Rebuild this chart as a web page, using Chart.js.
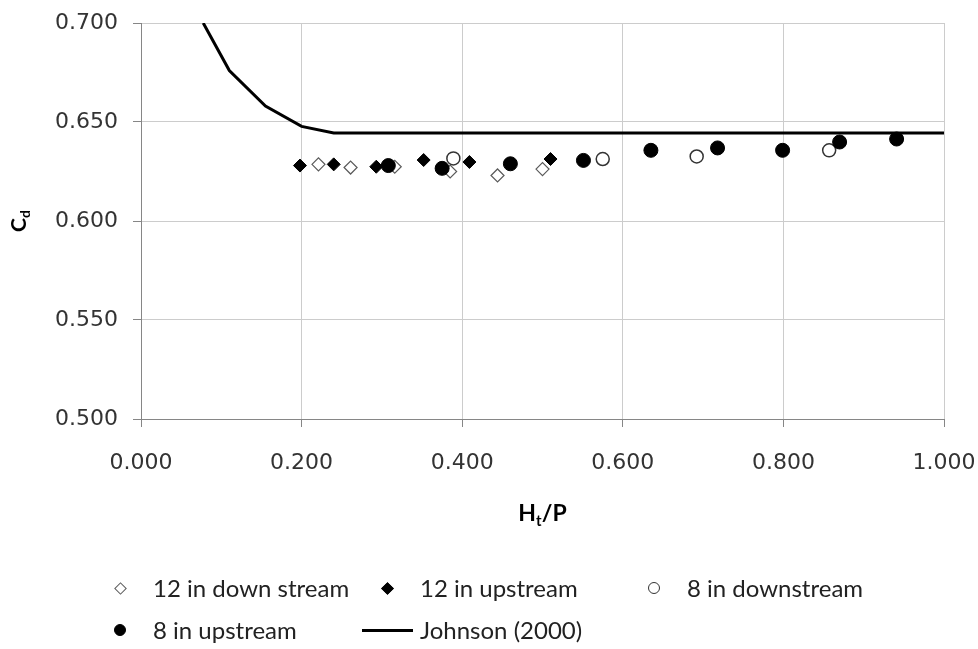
<!DOCTYPE html>
<html>
<head>
<meta charset="utf-8">
<script src="https://cdn.jsdelivr.net/npm/chart.js@4.4.0/dist/chart.umd.min.js"></script>
<style>
  html, body { margin: 0; padding: 0; background: #fff; }
  #wrap { position: relative; width: 978px; height: 649px; overflow: hidden; }
  #legend { position: absolute; left: 0; top: 0; width: 978px; height: 649px; pointer-events: none;
            font-family: Lato, "Noto Sans", sans-serif; font-size: 24px; color: #222; }
  .item { position: absolute; width: 0; height: 0; }
  .item .txt { position: absolute; left: 0; top: 0; transform: translateY(-50%); line-height: 1; white-space: nowrap; }
  .item .mk { position: absolute; box-sizing: border-box; }
</style>
</head>
<body>
<div id="wrap">
  <canvas id="cdChart" width="978" height="649"></canvas>
  <div id="legend"></div>
</div>
<script>
// Discharge coefficient vs head ratio
const down12X = [0.221, 0.261, 0.316, 0.385, 0.444, 0.500];
const down12Y = [0.6286, 0.6270, 0.6274, 0.6250, 0.6230, 0.6262];

const up12X = [0.198, 0.240, 0.293, 0.352, 0.409, 0.510];
const up12Y = [0.6280, 0.6286, 0.6274, 0.6308, 0.6298, 0.6313];

const down8X = [0.389, 0.575, 0.692, 0.857];
const down8Y = [0.6316, 0.6313, 0.6326, 0.6357];

const up8X = [0.308, 0.375, 0.460, 0.551, 0.635, 0.718, 0.799, 0.870, 0.941];
const up8Y = [0.6280, 0.6266, 0.6289, 0.6306, 0.6357, 0.6369, 0.6357, 0.6399, 0.6414];

const johnsonX = [0.0775, 0.110, 0.155, 0.200, 0.240, 1.000];
const johnsonY = [0.7000, 0.6760, 0.6580, 0.6478, 0.6445, 0.6445];

const xTickValues = [0, 0.2, 0.4, 0.6, 0.8, 1.0];
const yTickValues = [0.5, 0.55, 0.6, 0.65, 0.7];

function pairs(xs, ys) {
    return xs.map((x, i) => ({ x: x, y: ys[i] }));
}

const gridColor = '#cccccc';
const axisColor = '#868686';
const tickFont = { family: 'DejaVu Sans', size: 22 };

// Axis titles with subscripts (Chart.js titles can't do them)
const axisTitles = {
    id: 'axisTitles',
    afterDraw(chart) {
        const { ctx, chartArea } = chart;
        ctx.save();
        ctx.fillStyle = '#000';
        ctx.textBaseline = 'alphabetic';
        ctx.textAlign = 'left';

        // H_t/P under the x axis
        const big = 'bold 23px Lato';
        const small = 'bold 15px Lato';
        ctx.font = big;
        const wH = ctx.measureText('H').width;
        const wP = ctx.measureText('/P').width;
        ctx.font = small;
        const wt = ctx.measureText('t').width;
        let x = (chartArea.left + chartArea.right) / 2 - (wH + wt + wP) / 2;
        const base = 521;
        ctx.font = big;
        ctx.fillText('H', x, base);
        x += wH;
        ctx.font = small;
        ctx.fillText('t', x, base + 5);
        x += wt;
        ctx.font = big;
        ctx.fillText('/P', x, base);

        // C_d beside the y axis
        ctx.translate(18, (chartArea.top + chartArea.bottom) / 2);
        ctx.rotate(-Math.PI / 2);
        const bigY = 'bold 21px Lato';
        const smallY = 'bold 14px Lato';
        ctx.font = bigY;
        const wC = ctx.measureText('C').width;
        ctx.font = smallY;
        const wd = ctx.measureText('d').width;
        let lx = -(wC + wd) / 2;
        ctx.font = bigY;
        ctx.fillText('C', lx, 7.5);
        ctx.font = smallY;
        ctx.fillText('d', lx + wC, 12);
        ctx.restore();
    }
};

const ctx = document.getElementById('cdChart').getContext('2d');
const chart = new Chart(ctx, {
    type: 'scatter',
    data: {
        datasets: [
            {
                label: '12 in down stream',
                data: pairs(down12X, down12Y),
                pointStyle: 'rectRot',
                pointRadius: 6.5,
                backgroundColor: '#ffffff',
                borderColor: '#5a5a5a',
                borderWidth: 1.2,
                order: 5
            },
            {
                label: '12 in upstream',
                data: pairs(up12X, up12Y),
                pointStyle: 'rectRot',
                pointRadius: 6.5,
                backgroundColor: '#000000',
                borderColor: '#000000',
                borderWidth: 1,
                order: 4
            },
            {
                label: '8 in downstream',
                data: pairs(down8X, down8Y),
                pointStyle: 'circle',
                pointRadius: 6.5,
                backgroundColor: '#ffffff',
                borderColor: '#333333',
                borderWidth: 1.5,
                order: 3
            },
            {
                label: '8 in upstream',
                data: pairs(up8X, up8Y),
                pointStyle: 'circle',
                pointRadius: 7,
                backgroundColor: '#000000',
                borderColor: '#000000',
                borderWidth: 1,
                order: 2
            },
            {
                label: 'Johnson (2000)',
                data: pairs(johnsonX, johnsonY),
                showLine: true,
                pointRadius: 0,
                borderColor: '#000000',
                borderWidth: 3,
                tension: 0,
                order: 1
            }
        ]
    },
    options: {
        responsive: false,
        animation: false,
        layout: {
            padding: { left: 0, right: 34, top: 23, bottom: 170 }
        },
        plugins: {
            legend: { display: false },
            tooltip: { enabled: false }
        },
        scales: {
            x: {
                type: 'linear',
                min: 0,
                max: 1,
                afterBuildTicks: s => { s.ticks = xTickValues.map(v => ({ value: v })); },
                afterFit: s => { s.height = 60; s.paddingLeft = 0; s.paddingRight = 0; },
                grid: { color: gridColor, tickColor: axisColor, tickLength: 8 },
                border: { color: axisColor },
                ticks: {
                    font: tickFont,
                    color: '#333333',
                    padding: 23,
                    maxRotation: 0,
                    callback: v => v.toFixed(3)
                }
            },
            y: {
                type: 'linear',
                min: 0.5,
                max: 0.7,
                afterBuildTicks: s => { s.ticks = yTickValues.map(v => ({ value: v })); },
                afterFit: s => { s.width = 141; s.paddingTop = 0; s.paddingBottom = 0; },
                grid: { color: gridColor, tickColor: axisColor, tickLength: 8 },
                border: { color: axisColor },
                ticks: {
                    font: tickFont,
                    color: '#333333',
                    padding: 15,
                    callback: v => v.toFixed(3)
                }
            }
        }
    },
    plugins: [axisTitles]
});

// Legend in a fixed grid below the plot
const legendCols = [153, 420, 687];
const legendRows = [588, 630];
const legendSlots = [[0, 0], [0, 1], [0, 2], [1, 0], [1, 1]];

function buildLegend() {
    const box = document.getElementById('legend');
    chart.data.datasets.forEach((ds, i) => {
        const [r, c] = legendSlots[i];
        const item = document.createElement('div');
        item.className = 'item';
        item.style.left = legendCols[c] + 'px';
        item.style.top = legendRows[r] + 'px';

        const mk = document.createElement('span');
        mk.className = 'mk';
        if (ds.showLine) {
            Object.assign(mk.style, { left: '-58px', top: '-1.5px', width: '51px', height: '3px', background: ds.borderColor });
        } else if (ds.pointStyle === 'rectRot') {
            Object.assign(mk.style, { left: '-37.5px', top: '-4.5px', width: '9px', height: '9px', transform: 'rotate(45deg)',
                background: ds.backgroundColor, border: '1px solid ' + ds.borderColor });
        } else {
            Object.assign(mk.style, { left: '-39px', top: '-6px', width: '12px', height: '12px', borderRadius: '50%',
                background: ds.backgroundColor, border: '1.3px solid ' + ds.borderColor });
        }
        item.appendChild(mk);

        const txt = document.createElement('span');
        txt.className = 'txt';
        txt.textContent = ds.label;
        item.appendChild(txt);
        box.appendChild(item);
    });
}
buildLegend();
</script>
</body>
</html>
